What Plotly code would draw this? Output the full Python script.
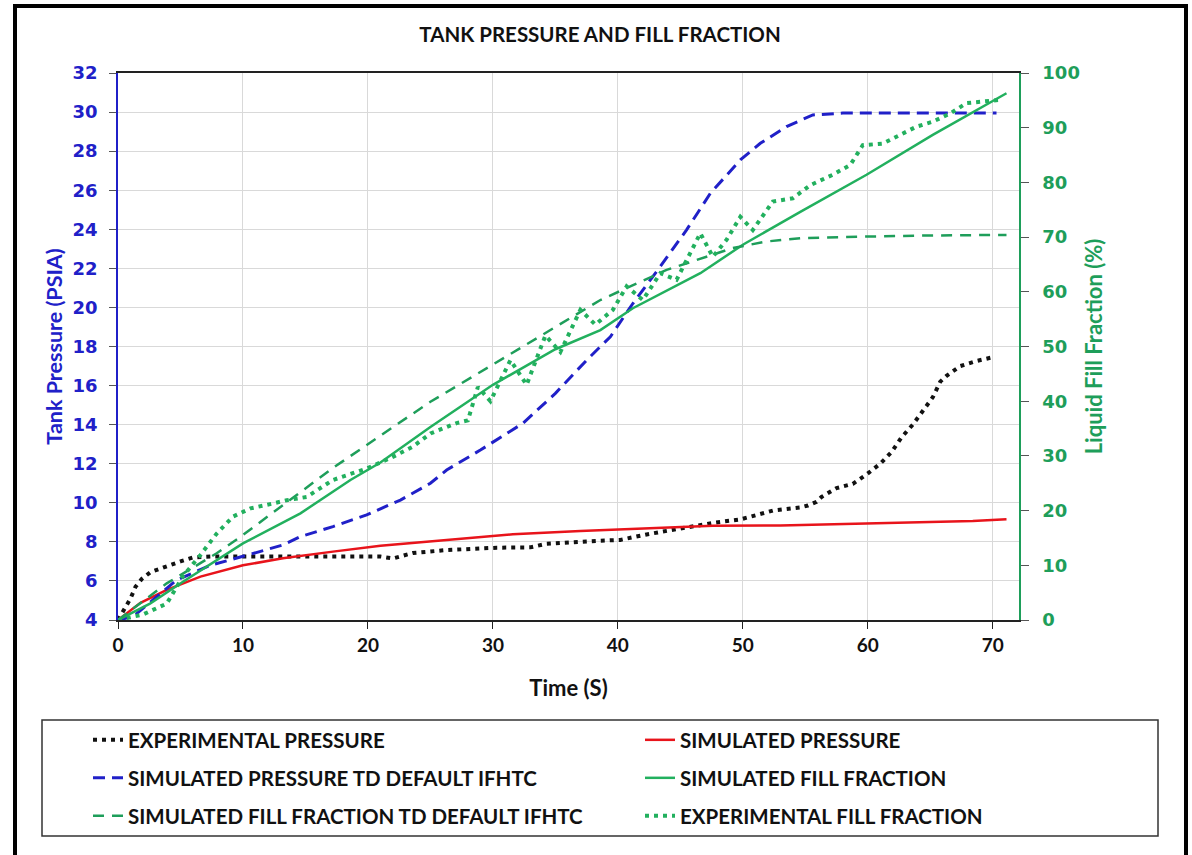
import plotly.graph_objects as go

# ---------------- data ----------------
exp_p_t = [0, 0.5, 1, 1.4, 1.9, 2.6, 3.2, 3.9, 5, 6, 7.5, 10, 14.6, 20, 21, 22, 23.6, 26.3, 30.3, 33, 34.3,
           38.3, 40.2, 42.3, 45, 47.6, 49.8, 52.4, 54.6, 55.2, 55.9, 56.3, 57.5, 58.8, 59.9, 61, 61.9, 62.7,
           63.6, 64.4, 65.2, 65.8, 66.3, 67.4, 68.7, 70]
exp_p = [4, 4.6, 5.1, 5.7, 6.1, 6.45, 6.6, 6.75, 7.0, 7.2, 7.25, 7.25, 7.25, 7.25, 7.25, 7.15, 7.43, 7.58, 7.7,
         7.72, 7.9, 8.05, 8.1, 8.38, 8.7, 8.97, 9.15, 9.6, 9.76, 9.86, 10.05, 10.3, 10.75, 10.97, 11.45, 12.0,
         12.6, 13.35, 14.0, 14.67, 15.4, 16.2, 16.5, 17.0, 17.26, 17.45]

sim_p_t = [0, 1.8, 3.9, 6.6, 10, 13.2, 17.2, 21, 26.3, 31.6, 37, 42.3, 47.6, 53, 57.8, 63.1, 68.4, 71.1]
sim_p = [4, 4.88, 5.54, 6.22, 6.8, 7.16, 7.5, 7.8, 8.1, 8.39, 8.56, 8.7, 8.82, 8.84, 8.9, 8.99, 9.07, 9.16]

td_p_t = [0, 1.2, 4.7, 7.4, 10, 13.2, 14.6, 17.2, 19.9, 22.6, 25, 26.3, 29, 32.4, 35, 37.5, 39.4, 41.2, 43.4,
          45.5, 47.4, 49.8, 51.4, 53.5, 55.6, 58, 62, 66, 70.3]
td_p = [4, 4.17, 6.05, 6.8, 7.26, 7.84, 8.27, 8.78, 9.38, 10.14, 11.0, 11.68, 12.7, 14.07, 15.6, 17.3, 18.5,
        20.2, 22.1, 23.97, 25.84, 27.55, 28.4, 29.26, 29.85, 29.95, 29.95, 29.95, 29.95]

sim_f_t = [0, 2.56, 5.2, 10, 14.6, 18.6, 21, 25, 30, 35, 38.6, 41.2, 46.6, 50, 54.6, 59.9, 65.2, 71.1]
sim_f = [0, 3, 7, 14, 19.5, 25.6, 28.8, 35.3, 43, 49.5, 53, 57, 63.4, 68.6, 74.6, 81.4, 88.7, 96.3]

td_f_t = [0, 3.9, 7.9, 9.8, 13.2, 17.2, 21, 25, 30, 35, 38.6, 43.9, 49.2, 51.9, 54.6, 59.9, 65, 71.1]
td_f = [0, 6.7, 12.2, 15.2, 21, 27.8, 33.7, 39.9, 46.7, 53.5, 58.5, 64, 68, 69.2, 69.8, 70.1, 70.3, 70.4]

exp_f_t = [0, 2, 3.9, 4.3, 5.2, 6.6, 7.9, 9.2, 10.6, 12.4, 13.5, 15.1, 17.2, 19.9, 21.8, 23.6, 25, 27.1,
           28, 28.8, 29.8, 31.4, 32.7, 34.2, 35.4, 37, 38.2, 39.6, 40.7, 42, 43.4, 44.7, 46.6, 47.6, 48.7,
           49.8, 50.8, 52.4, 54, 55.4, 57.2, 58.6, 59.6, 61.2, 62.6, 63.9, 65.2, 66.6, 67.9, 69.2, 70.6]
exp_f = [0, 1, 3, 4.6, 8, 11.9, 15.8, 18.9, 20.4, 21.3, 21.9, 22.5, 25.6, 27.7, 29.6, 31.7, 34.1, 36, 36.5,
         42.6, 40, 47.5, 43, 52, 49, 56.7, 54, 56.7, 61, 58.5, 63.4, 62.2, 70.7, 66.4, 69.5, 73.7, 71.3, 76.5,
         77.1, 79.5, 81.4, 83.2, 86.8, 87.1, 88.7, 90.2, 91.1, 92.6, 94.5, 94.8, 95.1]

x_ticks = [0, 10, 20, 30, 40, 50, 60, 70]

BLUE = "#2020C8"
GREEN = "#1E9E5A"
GREEN_L = "#22B05E"
LEG_FONT = dict(family="Lato, sans-serif", size=20.5, color="#111111", weight=700)

fig = go.Figure()
fig.add_trace(go.Scatter(x=exp_p_t, y=exp_p, mode="lines", name="EXPERIMENTAL PRESSURE", showlegend=True,
                         line=dict(color="#111111", width=4, dash="4px,5px"), legend="legend"))
fig.add_trace(go.Scatter(x=sim_p_t, y=sim_p, mode="lines", name="SIMULATED PRESSURE", showlegend=True,
                         line=dict(color="#E8141B", width=2.5), legend="legend2"))
fig.add_trace(go.Scatter(x=td_p_t, y=td_p, mode="lines", name="SIMULATED PRESSURE TD DEFAULT IFHTC",
                         showlegend=True,
                         line=dict(color=BLUE, width=3, dash="12px,7px"), legend="legend3"))
fig.add_trace(go.Scatter(x=sim_f_t, y=sim_f, mode="lines", name="SIMULATED FILL FRACTION", yaxis="y2",
                         showlegend=True,
                         line=dict(color=GREEN_L, width=2.5), legend="legend4"))
fig.add_trace(go.Scatter(x=td_f_t, y=td_f, mode="lines", name="SIMULATED FILL FRACTION TD DEFAULT IFHTC",
                         showlegend=True,
                         yaxis="y2", line=dict(color=GREEN, width=2.5, dash="11px,8px"), legend="legend5"))
fig.add_trace(go.Scatter(x=exp_f_t, y=exp_f, mode="lines", name="EXPERIMENTAL FILL FRACTION", yaxis="y2",
                         showlegend=True,
                         line=dict(color=GREEN_L, width=4, dash="4px,5px"), legend="legend6"))

# plot area in pixels: left 118, right 1019, top 73, bottom 620
L, R, T, B = 118, 1019, 73, 620
W, H = R - L, B - T


def px(xp):
    return (xp - L) / W


def py(yp):
    return (B - yp) / H


def leg(xpix, ypix):
    return dict(orientation="h", font=LEG_FONT, bgcolor="rgba(0,0,0,0)", borderwidth=0,
                xanchor="left", yanchor="middle", x=px(xpix), y=py(ypix), itemclick=False)


fig.update_layout(
    width=1192, height=855,
    showlegend=True,
    margin=dict(l=L, r=1192 - R, t=T, b=855 - B),
    paper_bgcolor="white", plot_bgcolor="white",
    title=dict(text="TANK PRESSURE AND FILL FRACTION", x=600 / 1192, xanchor="center",
               y=1 - 35 / 855, yanchor="middle", xref="container", yref="container",
               font=dict(family="Lato, sans-serif", size=20.5, color="#111111", weight=700)),
    legend=leg(88, 740), legend2=leg(640, 740),
    legend3=leg(88, 778), legend4=leg(640, 778),
    legend5=leg(88, 816), legend6=leg(640, 816),
    xaxis=dict(range=[0, 72.1], tickvals=x_ticks, showgrid=True, gridcolor="#D9D9D9", gridwidth=1,
               zeroline=False, showline=True, linecolor="#222222", linewidth=1.5, mirror=True,
               ticks="outside", ticklen=7, tickcolor="#222222",
               tickfont=dict(family="Lato, sans-serif", size=19, color="#111111", weight=700),
               title=dict(text="Time (S)", standoff=26,
                          font=dict(family="Lato, sans-serif", size=22, color="#111111", weight=700))),
    yaxis=dict(range=[4, 32], dtick=2, showgrid=True, gridcolor="#D9D9D9", gridwidth=1, zeroline=False,
               showline=True, linecolor=BLUE, linewidth=1.5, ticks="outside", ticklen=7, tickcolor="#555555",
               ticklabelstandoff=8,
               tickfont=dict(family="DejaVu Sans, sans-serif", size=18, color=BLUE, weight=700),
               title=dict(text="Tank Pressure (PSIA)", standoff=4,
                          font=dict(family="Lato, sans-serif", size=21.5, color=BLUE, weight=700))),
    yaxis2=dict(range=[0, 100], dtick=10, overlaying="y", side="right", showgrid=False, zeroline=False,
                showline=True, linecolor=GREEN, linewidth=1.5, ticks="outside", ticklen=8,
                tickcolor="#555555", ticklabelstandoff=10,
                tickfont=dict(family="DejaVu Sans, sans-serif", size=18, color=GREEN, weight=700),
                title=dict(text="Liquid Fill Fraction (%)", standoff=8,
                           font=dict(family="Lato, sans-serif", size=22, color=GREEN, weight=700))),
    shapes=[
        dict(type="rect", xref="paper", yref="paper", x0=px(15), x1=px(1186), y0=py(860), y1=py(6),
             line=dict(color="black", width=4), fillcolor="rgba(0,0,0,0)", layer="above"),
        dict(type="rect", xref="paper", yref="paper", x0=px(42), x1=px(1158), y0=py(836), y1=py(720),
             line=dict(color="#333333", width=1.5), fillcolor="rgba(0,0,0,0)", layer="above"),
    ],
)

fig.write_html("out.html")
